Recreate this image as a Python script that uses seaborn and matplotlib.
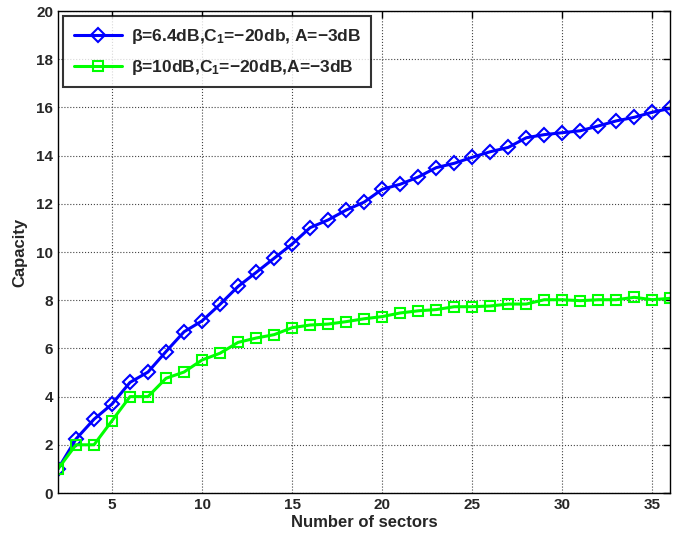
import numpy as np
import pandas as pd
import matplotlib
matplotlib.use("Agg")
import matplotlib.pyplot as plt
import seaborn as sns

# data
sectors = list(range(2, 37))
cap_beta64 = [1.0, 2.24, 3.06, 3.69, 4.59, 5.02, 5.87, 6.69, 7.14, 7.83, 8.57, 9.15,
              9.74, 10.33, 11.01, 11.33, 11.74, 12.07, 12.6, 12.81, 13.11, 13.5, 13.68,
              13.93, 14.16, 14.34, 14.74, 14.87, 14.95, 15.03, 15.23, 15.44, 15.59,
              15.8, 15.96]
cap_beta10 = [1.0, 2.0, 2.0, 3.0, 4.0, 4.0, 4.76, 5.02, 5.52, 5.8, 6.25, 6.43, 6.57,
              6.86, 6.97, 7.01, 7.11, 7.23, 7.32, 7.47, 7.56, 7.61, 7.73, 7.73, 7.76,
              7.84, 7.84, 8.02, 8.02, 7.98, 8.02, 8.02, 8.12, 8.02, 8.08]
label_64 = "β=6.4dB,C$_1$=−20db, A=−3dB"
label_10 = "β=10dB,C$_1$=−20dB,A=−3dB"

df64 = pd.DataFrame({"sectors": sectors, "capacity": cap_beta64})
df10 = pd.DataFrame({"sectors": sectors, "capacity": cap_beta10})

sns.set_style("white")
plt.rcParams["font.family"] = ["Liberation Sans", "DejaVu Sans"]
plt.rcParams["font.weight"] = "bold"
plt.rcParams["mathtext.fontset"] = "custom"
plt.rcParams["mathtext.rm"] = "Liberation Sans:bold"
plt.rcParams["mathtext.default"] = "rm"

fig = plt.figure(figsize=(6.87, 5.42), dpi=100)
ax = fig.add_axes([0.0844, 0.0904, 0.8913, 0.8893])

sns.lineplot(data=df64, x="sectors", y="capacity", ax=ax, color="#0000ff",
             linewidth=2.2, marker="D", markersize=7, markerfacecolor="none",
             markeredgecolor="#0000ff", markeredgewidth=1.5, label=label_64)
sns.lineplot(data=df10, x="sectors", y="capacity", ax=ax, color="#00ff00",
             linewidth=2.2, marker="s", markersize=7.5, markerfacecolor="none",
             markeredgecolor="#00ff00", markeredgewidth=1.5, label=label_10)

ax.set_xlim(2, 36)
ax.set_ylim(0, 20)
ax.set_xticks([5, 10, 15, 20, 25, 30, 35])
ax.set_yticks(range(0, 21, 2))
ax.grid(True, linestyle=":", color="#444444", linewidth=0.8)
ax.tick_params(direction="in", length=5, width=1, labelsize=11,
               top=True, right=True, color="black")
for lbl in ax.get_xticklabels() + ax.get_yticklabels():
    lbl.set_fontweight("bold")
for sp in ax.spines.values():
    sp.set_color("black")
    sp.set_linewidth(1)

ax.set_xlabel("Number of sectors", fontsize=12, fontweight="bold", labelpad=2)
ax.set_ylabel("Capacity", fontsize=12, fontweight="bold", labelpad=6)

leg = ax.legend(loc="upper left", fontsize=12.5, numpoints=1, handlelength=2.8,
                frameon=True, fancybox=False, borderaxespad=0.3,
                borderpad=0.6, labelspacing=0.7, handletextpad=0.5)
leg.get_frame().set_edgecolor("black")
leg.get_frame().set_linewidth(1.5)

fig.savefig("out.png", dpi=100)
